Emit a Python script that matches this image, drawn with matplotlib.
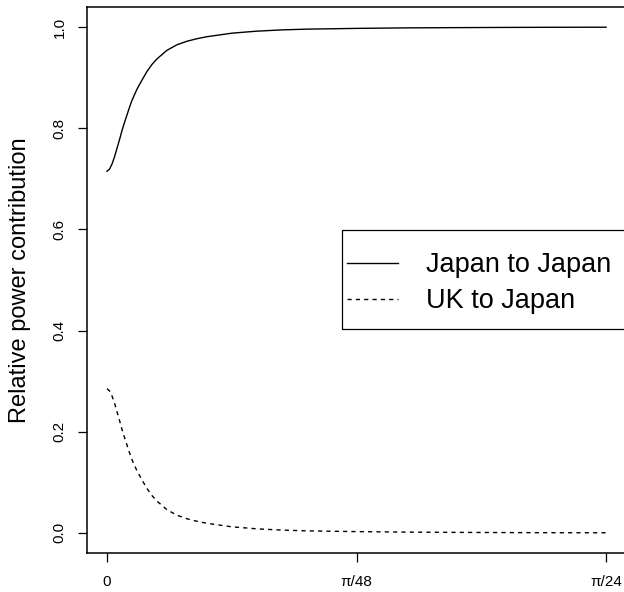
import numpy as np
import matplotlib
matplotlib.use("Agg")
import matplotlib.pyplot as plt
from matplotlib.patches import Rectangle

plt.rcParams['font.family'] = ['Liberation Sans', 'DejaVu Sans']

###
# Values (frequency as a fraction of pi/24)
###
freq_frac = [0.000, 0.005, 0.010, 0.015, 0.020, 0.025, 0.030, 0.035, 0.040, 0.045,
             0.05, 0.06, 0.07, 0.08, 0.09,
             0.10, 0.12, 0.14, 0.16, 0.18, 0.20, 0.25, 0.30, 0.35, 0.40,
             0.50, 0.60, 0.70, 0.80, 0.90, 1.00]
japan_to_japan = [0.715, 0.719, 0.729, 0.743, 0.760, 0.777, 0.795, 0.811, 0.826, 0.841,
                  0.855, 0.877, 0.895, 0.912, 0.926,
                  0.937, 0.954, 0.965, 0.972, 0.977, 0.981, 0.988, 0.992, 0.9945, 0.996,
                  0.9975, 0.9985, 0.999, 0.9994, 0.9997, 0.9998]
uk_to_japan = [0.285, 0.281, 0.271, 0.257, 0.240, 0.223, 0.205, 0.189, 0.174, 0.159,
               0.145, 0.123, 0.105, 0.088, 0.074,
               0.063, 0.046, 0.035, 0.028, 0.023, 0.019, 0.012, 0.008, 0.0055, 0.004,
               0.0025, 0.0015, 0.001, 0.0006, 0.0003, 0.0002]
series_labels = ["Japan to Japan", "UK to Japan"]
x_tick_labels = ["0", "π/48", "π/24"]
y_ticks = [0.0, 0.2, 0.4, 0.6, 0.8, 1.0]

freq = np.array(freq_frac) * np.pi / 24

fig = plt.figure(figsize=(6.24, 5.92), dpi=100)
ax = fig.add_axes([87 / 624, 39 / 592, 539 / 624, 546 / 592])

ax.plot(freq, japan_to_japan, color="black", lw=1.0, label=series_labels[0])
ax.plot(freq, uk_to_japan, color="black", lw=1.0, ls=(0, (3, 3)), label=series_labels[1])

# R-style 4% padding on both axes
xr = freq.max() - freq.min()
ax.set_xlim(freq.min() - 0.04 * xr, freq.max() + 0.04 * xr)
ymin = min(min(japan_to_japan), min(uk_to_japan))
ymax = max(max(japan_to_japan), max(uk_to_japan))
yr = ymax - ymin
ax.set_ylim(ymin - 0.04 * yr, ymax + 0.04 * yr)

ax.set_xticks([0, np.pi / 48, np.pi / 24])
ax.set_xticklabels(x_tick_labels)
ax.set_yticks(y_ticks)
ax.set_yticklabels([f"{v:.1f}" for v in y_ticks], rotation=90, va="center")

ax.tick_params(axis="both", labelsize=11, length=6.5, width=0.9, color="black")
ax.tick_params(axis="x", pad=9)
ax.tick_params(axis="y", pad=8)
for s in ax.spines.values():
    s.set_linewidth(1.1)

ax.set_ylabel("Relative power contribution", fontsize=17)
ax.yaxis.set_label_coords(-0.104, 0.5)

# legend contents without frame, R-like box drawn separately
leg = ax.legend(loc="center left", bbox_to_anchor=((347 - 87) / 539, 0.4945),
                fontsize=19.5, frameon=False, borderaxespad=0, borderpad=0,
                handlelength=1.9, handletextpad=1.0, labelspacing=0.37)
ax.add_patch(Rectangle(((342 - 87) / 539, (553 - 329) / 546), 0.6, 99 / 546,
                       transform=ax.transAxes, fill=False, edgecolor="black",
                       lw=0.9, clip_on=False))

fig.savefig("out.png", dpi=100)
